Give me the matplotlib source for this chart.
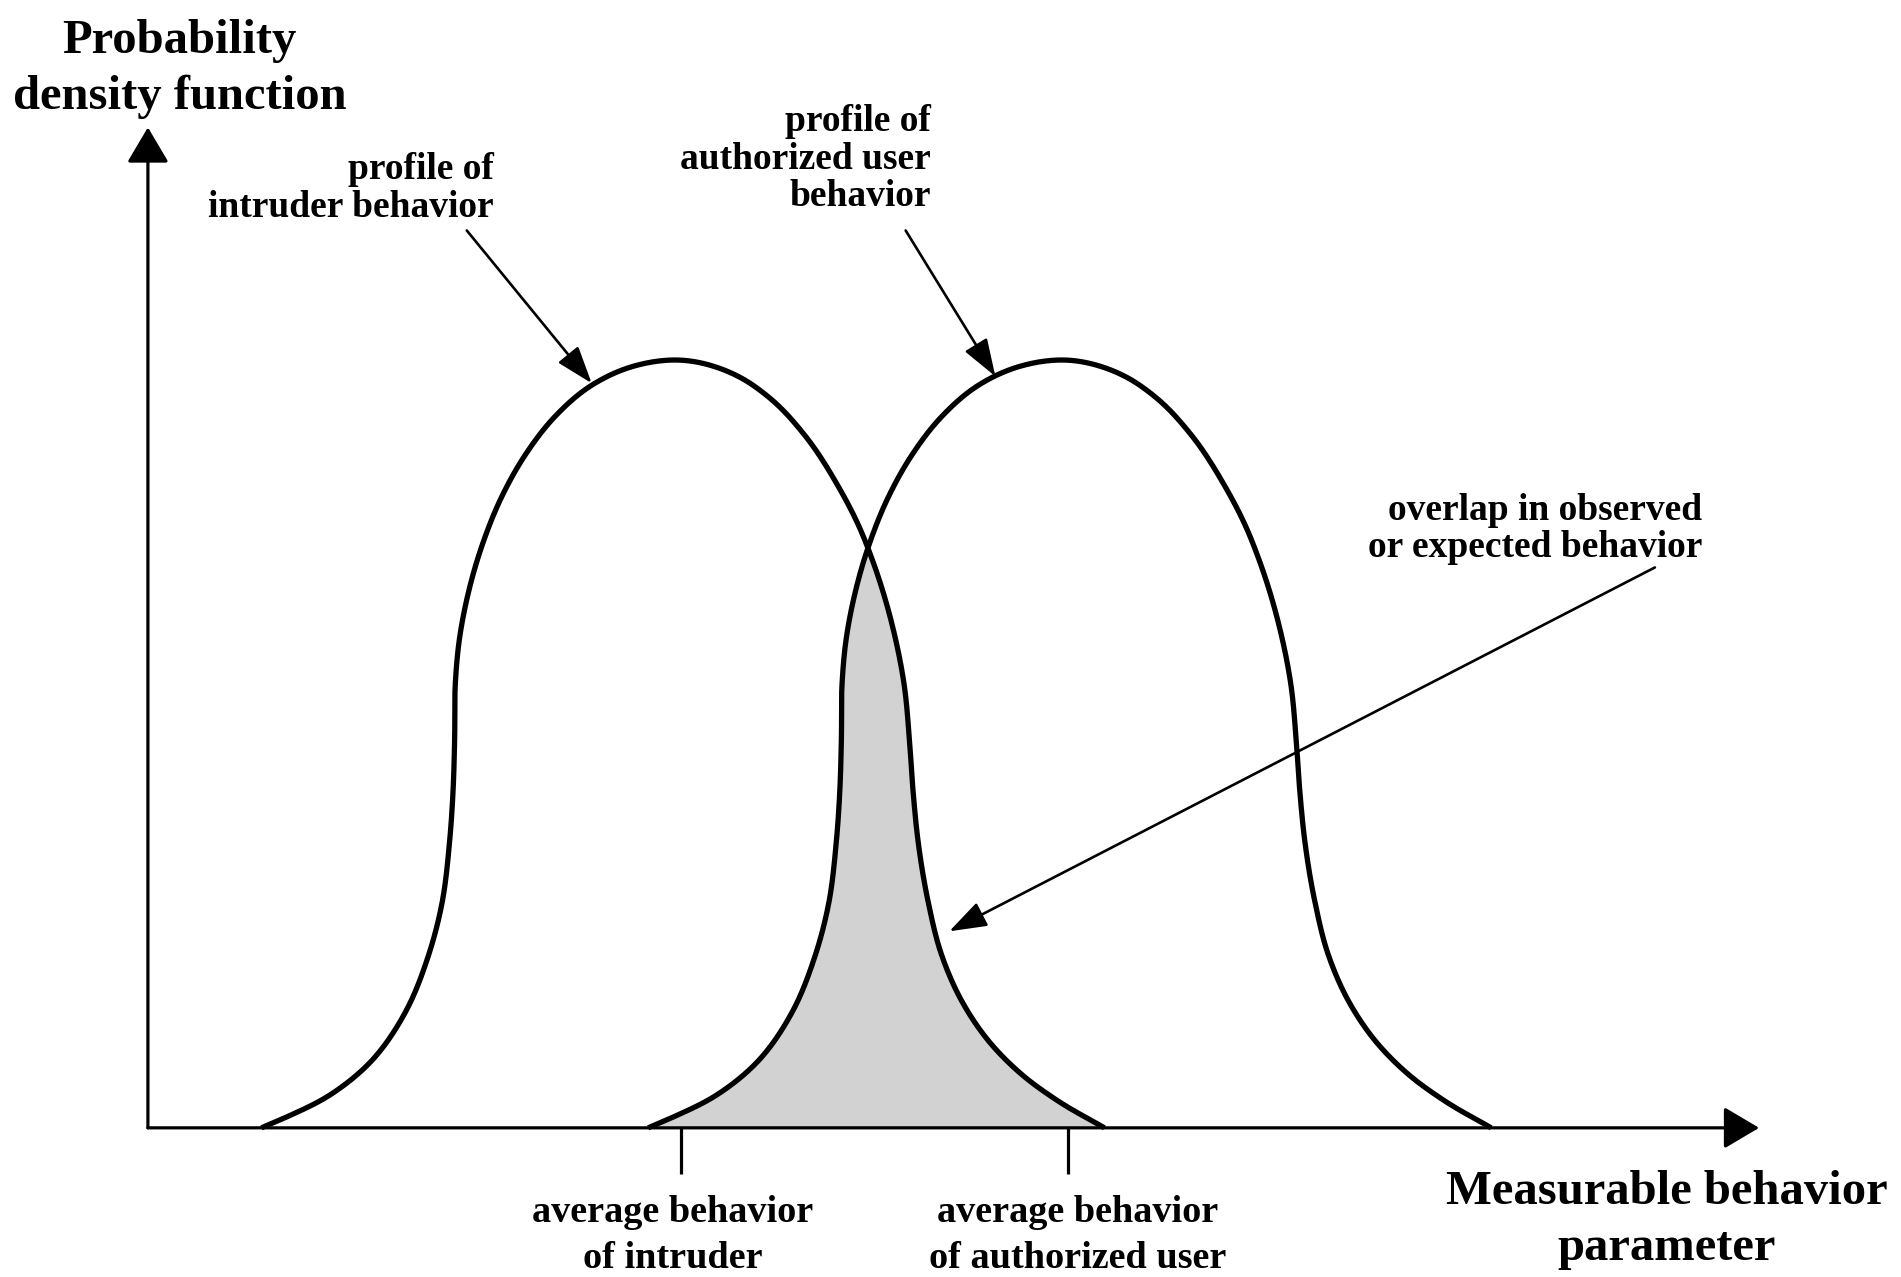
import matplotlib.pyplot as plt
import numpy as np
from matplotlib.patches import FancyArrowPatch, ArrowStyle

plt.rcParams['font.family'] = ['Liberation Serif', 'DejaVu Serif']

# shape of one behaviour profile:
# distance from the mean (left and right flank) vs relative density
left_dx = [0, 0.419, 0.753, 1.052, 1.282, 1.479, 1.641, 1.766, 1.833, 1.864, 1.87,
           1.883, 1.911, 1.98, 2.089, 2.282, 2.557, 2.887, 3.272, 3.464]
left_h = [1.0, 0.991, 0.966, 0.925, 0.878, 0.823, 0.760, 0.691, 0.634, 0.580, 0.506,
          0.439, 0.374, 0.288, 0.223, 0.149, 0.087, 0.044, 0.013, 0.0]
right_dx = [0, 0.468, 0.742, 1.019, 1.293, 1.458, 1.582, 1.753, 1.838, 1.882,
            1.911, 1.952, 2.035, 2.145, 2.31, 2.53, 2.804, 3.107, 3.49]
right_h = [1.0, 0.979, 0.949, 0.902, 0.836, 0.786, 0.737, 0.646, 0.577, 0.504,
           0.439, 0.374, 0.295, 0.226, 0.166, 0.114, 0.070, 0.035, 0.0]
mean_intruder = 4.40
mean_user = 7.59

y_label = 'Probability\ndensity function'
x_label = 'Measurable behavior\nparameter'
mean_labels = ['average behavior\nof intruder', 'average behavior\nof authorized user']

ASPECT = 6.33  # one y unit is this many x units on the page


def smooth(xs, ys, n=24):
    # bessel-tangent cubic through the read points, in page-like coordinates
    p = np.column_stack([xs, np.asarray(ys) * ASPECT])
    d = np.linalg.norm(np.diff(p, axis=0), axis=1)
    delta = np.diff(p, axis=0) / d[:, None]
    tan = np.empty_like(p)
    tan[0], tan[-1] = delta[0], delta[-1]
    tan[1:-1] = (d[1:, None] * delta[:-1] + d[:-1, None] * delta[1:]) / (d[:-1] + d[1:])[:, None]
    t = np.linspace(0, 1, n)[1:, None]
    out = [p[0]]
    for i in range(len(p) - 1):
        b0, b3 = p[i], p[i + 1]
        b1 = b0 + tan[i] * d[i] / 3
        b2 = b3 - tan[i + 1] * d[i] / 3
        out.extend((1 - t) ** 3 * b0 + 3 * (1 - t) ** 2 * t * b1
                   + 3 * (1 - t) * t ** 2 * b2 + t ** 3 * b3)
    out = np.array(out)
    out[:, 1] /= ASPECT
    return out


prof_dx = np.concatenate([-np.array(left_dx)[::-1], np.array(right_dx)[1:]])
prof_h = np.concatenate([np.array(left_h)[::-1], np.array(right_h)[1:]])

fig = plt.figure(figsize=(19.01, 12.77), dpi=100)
ax = fig.add_axes([0, 0, 1, 1])
ax.set_xlim(-1.22, 14.46)
ax.set_ylim(-0.1943, 1.4692)
ax.axis('off')

curves = [smooth(m + prof_dx, prof_h) for m in (mean_intruder, mean_user)]

# shaded overlap = area under both profiles
grid = np.linspace(mean_user - left_dx[-1], mean_intruder + right_dx[-1], 800)
under = []
for c in curves:
    under.append(np.interp(grid, np.maximum.accumulate(c[:, 0]), c[:, 1]))
ax.fill_between(grid, 0, np.minimum(*under), facecolor='#d2d2d2', edgecolor='none', zorder=1)

# axes with arrows
axis_style = ArrowStyle('-|>', head_length=1.1, head_width=0.65)
for a, b in [((0, 0), (0, 1.3033)), ((0, 0), (13.29, 0))]:
    ax.add_patch(FancyArrowPatch(a, b, arrowstyle=axis_style, mutation_scale=20,
                                 lw=2.3, color='black', shrinkA=0, shrinkB=0, zorder=2))

# the two profiles and the marks at their means
for m, c in zip((mean_intruder, mean_user), curves):
    ax.plot(c[:, 0], c[:, 1], color='black', lw=3.8, solid_capstyle='butt',
            solid_joinstyle='round', zorder=3)
    ax.plot([m, m], [0, -0.060], color='black', lw=2.3, solid_capstyle='butt', zorder=2)

# pointer arrows
ann_style = ArrowStyle('-|>', head_length=1.15, head_width=0.4)
pointers = [((2.63, 1.169), (3.66, 0.970)),
            ((6.25, 1.169), (6.99, 0.979)),
            ((12.43, 0.730), (6.61, 0.256))]
for a, b in pointers:
    ax.add_patch(FancyArrowPatch(a, b, arrowstyle=ann_style, mutation_scale=20,
                                 lw=1.9, color='black', shrinkA=0, shrinkB=0, zorder=4))

big = dict(fontsize=35, fontweight='bold', linespacing=1.33)
small = dict(fontsize=27, fontweight='bold', linespacing=1.1)
ax.text(0.26, 1.379, y_label, ha='center', va='center', multialignment='center', **big)
ax.text(12.53, -0.120, x_label, ha='center', va='center', multialignment='center', **big)
ax.text(2.85, 1.2235, 'profile of\nintruder behavior', ha='right', va='center',
        multialignment='right', **small)
ax.text(6.46, 1.262, 'profile of\nauthorized user\nbehavior', ha='right', va='center',
        multialignment='right', **small)
ax.text(12.82, 0.780, 'overlap in observed\nor expected behavior', ha='right', va='center',
        multialignment='right', **small)
for m, lab in zip([mean_intruder - 0.07, mean_user + 0.08], mean_labels):
    ax.text(m, -0.1398, lab, ha='center', va='center', multialignment='center',
            fontsize=27.5, fontweight='bold', linespacing=1.4)

fig.savefig('out.png', dpi=100)
